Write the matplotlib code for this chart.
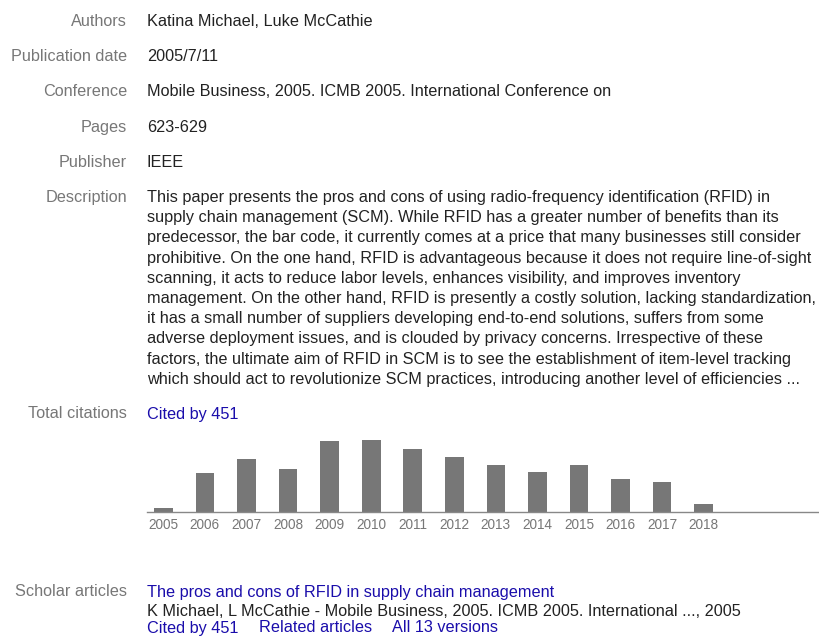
import matplotlib
matplotlib.use("Agg")
import matplotlib.pyplot as plt

W, H = 819, 636
FONT = ["Liberation Sans", "DejaVu Sans"]
FS = 11.7
LABEL_C = "#777777"
VALUE_C = "#222222"
LINK_C = "#1a0dab"

field_labels = ["Authors", "Publication date", "Conference", "Pages", "Publisher", "Description"]
field_values = [
    "Katina Michael, Luke McCathie",
    "2005/7/11",
    "Mobile Business, 2005. ICMB 2005. International Conference on",
    "623-629",
    "IEEE",
]
description_lines = [
    "This paper presents the pros and cons of using radio-frequency identification (RFID) in",
    "supply chain management (SCM). While RFID has a greater number of benefits than its",
    "predecessor, the bar code, it currently comes at a price that many businesses still consider",
    "prohibitive. On the one hand, RFID is advantageous because it does not require line-of-sight",
    "scanning, it acts to reduce labor levels, enhances visibility, and improves inventory",
    "management. On the other hand, RFID is presently a costly solution, lacking standardization,",
    "it has a small number of suppliers developing end-to-end solutions, suffers from some",
    "adverse deployment issues, and is clouded by privacy concerns. Irrespective of these",
    "factors, the ultimate aim of RFID in SCM is to see the establishment of item-level tracking",
    "which should act to revolutionize SCM practices, introducing another level of efficiencies ...",
]
total_label = "Total citations"
total_link = "Cited by 451"
years = [2005, 2006, 2007, 2008, 2009, 2010, 2011, 2012, 2013, 2014, 2015, 2016, 2017, 2018]
citations = [3, 29, 40, 32, 53, 54, 47, 41, 35, 30, 35, 25, 22, 6]
scholar_label = "Scholar articles"
scholar_title = "The pros and cons of RFID in supply chain management"
scholar_source = "K Michael, L McCathie - Mobile Business, 2005. ICMB 2005. International ..., 2005"
scholar_links = ["Cited by 451", "Related articles", "All 13 versions"]

fig = plt.figure(figsize=(W / 100, H / 100), dpi=100)
fig.patch.set_facecolor("white")


def put(x, y, s, color, ha="left"):
    fig.text(x / W, 1 - y / H, s, ha=ha, va="baseline", color=color,
             fontsize=FS, family=FONT)


label_x, value_x = 127, 147
row_base = [26, 61, 96.5, 132, 167, 202]
for lab, yb in zip(field_labels, row_base):
    put(label_x, yb, lab, LABEL_C, ha="right")
for val, yb in zip(field_values, row_base):
    put(value_x, yb, val, VALUE_C)
for i, line in enumerate(description_lines):
    put(value_x, 202 + 20.2 * i, line, VALUE_C)

put(label_x, 418.5, total_label, LABEL_C, ha="right")
put(value_x, 418.5, total_link, LINK_C)

# citation bar chart
base_y, top_y = 511.7, 430.0
ax = fig.add_axes([value_x / W, 1 - base_y / H, (W - value_x) / W, (base_y - top_y) / H])
ax.patch.set_alpha(0)
xs = list(range(len(years)))
ax.bar(xs, citations, width=0.45, color="#777777", linewidth=0)
spacing = 41.57
ax.set_xlim((value_x - 163.3) / spacing, (W - 163.3) / spacing)
ax.set_ylim(0, (base_y - top_y) / 1.328)
for s in ["left", "right", "top"]:
    ax.spines[s].set_visible(False)
ax.spines["bottom"].set_color("#888888")
ax.spines["bottom"].set_linewidth(1.0)
ax.set_yticks([])
ax.set_xticks(xs)
ax.set_xticklabels([str(y) for y in years], color=LABEL_C, fontsize=9.8, family=FONT)
ax.tick_params(axis="x", length=0, pad=4.5)

put(label_x, 596.5, scholar_label, LABEL_C, ha="right")
put(value_x, 596.5, scholar_title, LINK_C)
put(value_x, 616.5, scholar_source, VALUE_C)
for s, x in zip(scholar_links, [147, 259, 392]):
    put(x, 632.5, s, LINK_C)

fig.savefig("out.png", dpi=100, facecolor="white")
